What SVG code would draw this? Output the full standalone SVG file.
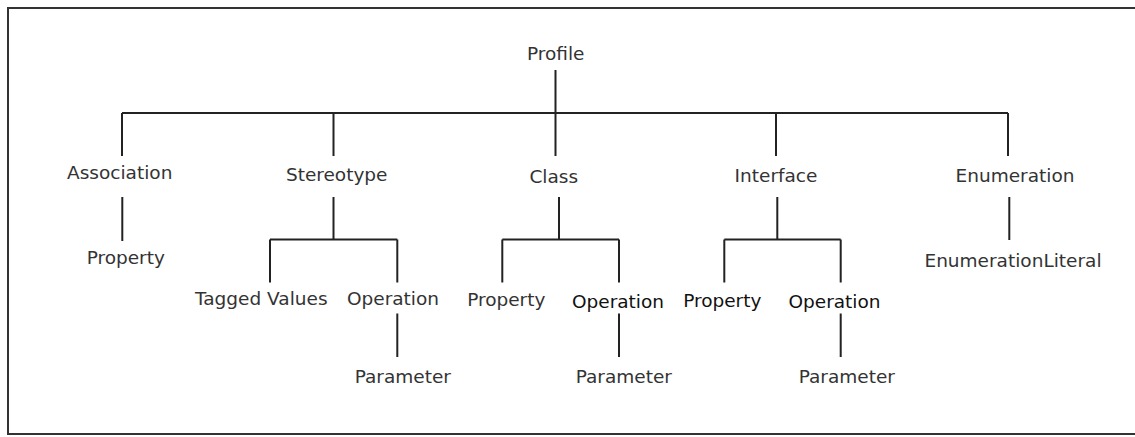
<svg xmlns="http://www.w3.org/2000/svg" width="1135" height="437" viewBox="0 0 1135 437">
  <style>
    .frame { fill: none; stroke: #333; stroke-width: 2; }
    .link { fill: none; stroke: #222; stroke-width: 2; }
    text { font-family: "DejaVu Sans", Verdana, sans-serif; font-size: 18.5px; fill: #333; text-anchor: middle; }
    text.dark { fill: #111; }
  </style>
  <rect width="1135" height="437" fill="#fff"/>
  <!-- outer frame, open on the right -->
  <path class="frame" d="M1140 8 H8 V434 H1140"/>

  <g id="connectors">
    <!-- Profile to first level -->
    <path class="link" d="M555.5 70 V156 M122 113 H1008 M122 113 V156 M333.5 113 V156 M776 113 V156 M1008 113 V156"/>
    <!-- Association -->
    <path class="link" d="M122.3 197 V241"/>
    <!-- Stereotype -->
    <path class="link" d="M333.5 197 V239.5 M270 239.5 H397.3 M270 239.5 V282.5 M397.3 239.5 V282.5 M397.3 313.5 V357"/>
    <!-- Class -->
    <path class="link" d="M559 197 V239.5 M502.3 239.5 H619 M502.3 239.5 V282.5 M619 239.5 V282.5 M619 313.5 V357"/>
    <!-- Interface -->
    <path class="link" d="M777.3 197 V239.5 M724.3 239.5 H840.7 M724.3 239.5 V282.5 M840.7 239.5 V282.5 M840.7 313.5 V357"/>
    <!-- Enumeration -->
    <path class="link" d="M1009.3 197 V240"/>
  </g>

  <g id="profile"><text x="555.7" y="60">Profile</text></g>

  <g id="association"><text x="119.7" y="179">Association</text></g>
  <g id="association-property"><text x="125.8" y="264">Property</text></g>

  <g id="stereotype"><text x="336.7" y="181">Stereotype</text></g>
  <g id="stereotype-tagged-values"><text x="261.3" y="305">Tagged Values</text></g>
  <g id="stereotype-operation"><text x="393" y="305">Operation</text></g>
  <g id="stereotype-parameter"><text x="402.8" y="382.5">Parameter</text></g>

  <g id="class"><text x="553.8" y="183">Class</text></g>
  <g id="class-property"><text x="506.3" y="306">Property</text></g>
  <g id="class-operation"><text class="dark" x="618" y="307.5">Operation</text></g>
  <g id="class-parameter"><text x="623.8" y="382.5">Parameter</text></g>

  <g id="interface"><text x="776" y="182">Interface</text></g>
  <g id="interface-property"><text class="dark" x="722.3" y="307">Property</text></g>
  <g id="interface-operation"><text class="dark" x="834.5" y="307.5">Operation</text></g>
  <g id="interface-parameter"><text x="846.8" y="382.5">Parameter</text></g>

  <g id="enumeration"><text x="1015" y="182">Enumeration</text></g>
  <g id="enumeration-literal"><text x="1013" y="266.5">EnumerationLiteral</text></g>
</svg>
